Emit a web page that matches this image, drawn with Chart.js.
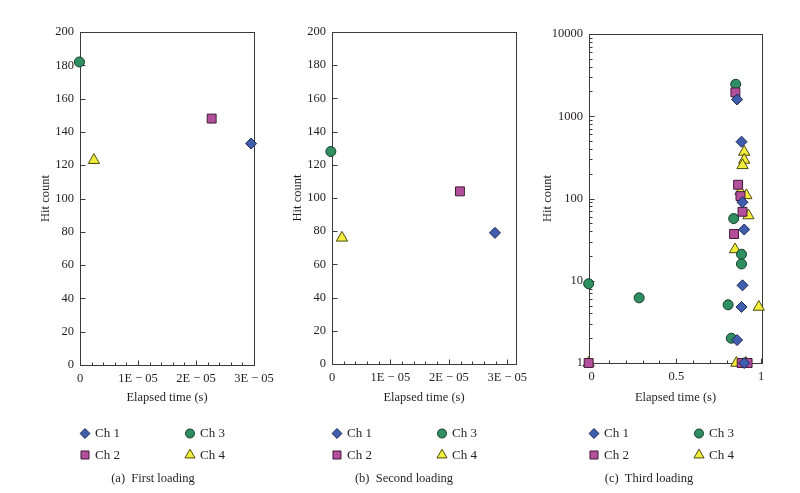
<!DOCTYPE html>
<html>
<head>
<meta charset="utf-8">
<script src="https://cdn.jsdelivr.net/npm/chart.js@4"></script>
<style>
  body { margin: 0; background: #fff; }
  #wrap { position: relative; width: 800px; height: 493px; overflow: hidden; }
  canvas { position: absolute; top: 0; }
</style>
</head>
<body>
<div id="wrap">
  <canvas id="first" width="280" height="493" style="left:0px"></canvas>
  <canvas id="second" width="260" height="493" style="left:280px"></canvas>
  <canvas id="third" width="260" height="493" style="left:540px"></canvas>
</div>
<script>
const channels = ["Ch 1", "Ch 2", "Ch 3", "Ch 4"];

// (a) first loading: one point per channel (Ch 1..Ch 4)
const firstTime = [2.95e-5, 2.27e-5, -1e-7, 2.4e-6];
const firstHits = [133, 148, 182, 123];

// (b) second loading
const secondTime = [2.79e-5, 2.19e-5, -2e-7, 1.7e-6];
const secondHits = [79, 104, 128, 76];

// (c) third loading
const thirdCh1Time = [0.858, 0.884, 0.89, 0.9, 0.89, 0.884, 0.858, 0.9];
const thirdCh1Hits = [1600, 490, 90, 42, 8.8, 4.8, 1.9, 1];
const thirdCh2Time = [0.848, 0.864, 0.878, 0.89, 0.84, -0.018, 0.885, 0.92];
const thirdCh2Hits = [1950, 147, 107, 69, 37, 1, 1, 1];
const thirdCh3Time = [0.85, 0.838, 0.884, 0.884, -0.018, 0.28, 0.805, 0.824];
const thirdCh3Hits = [2450, 57, 21, 16, 9.2, 6.2, 5.1, 2];
const thirdCh4Time = [0.9, 0.9, 0.89, 0.878, 0.913, 0.925, 0.846, 0.986, 0.854, 0.91, -0.018];
const thirdCh4Hits = [368, 294, 253, 122, 109, 62, 24, 4.8, 1, 1, 1];

// tick labels
const timeTicks = [0, 1e-5, 2e-5, 3e-5];
const timeLabels = ["0", "1E \u2212 05", "2E \u2212 05", "3E \u2212 05"];
const hitTicks = [0, 20, 40, 60, 80, 100, 120, 140, 160, 180, 200];
const secTicks = [0, 0.5, 1];
const secLabels = ["0", "0.5", "1"];
const logTicks = [1, 10, 100, 1000, 10000];

const marks = [
  { pointStyle: "rectRot", radius: 5.5, fill: "#3f5fae", border: "#1c2550" },
  { pointStyle: "rect", radius: 6.3, fill: "#b44f9c", border: "#3f1a38" },
  { pointStyle: "circle", radius: 5, fill: "#2f8f60", border: "#153a28" },
  { pointStyle: "triangle", radius: 6.5, fill: "#f2ec3a", border: "#4d4a12" },
];

Chart.defaults.font.family = "'Liberation Serif', 'Times New Roman', serif";
Chart.defaults.font.size = 12;
Chart.defaults.color = "#231f20";

function pts(xs, ys) {
  return xs.map(function (x, i) { return { x: x, y: ys[i] }; });
}

function linearSet(majors, labels, parts) {
  const out = [];
  majors.forEach(function (m, i) {
    out.push({ value: m, major: true, text: labels[i] });
    if (i < majors.length - 1) {
      const step = (majors[i + 1] - m) / parts;
      for (let k = 1; k < parts; k++) out.push({ value: m + k * step, major: false, text: "" });
    }
  });
  return out;
}

function logSet(majors) {
  const out = [];
  majors.forEach(function (m, i) {
    out.push({ value: m, major: true, text: String(m) });
    if (i < majors.length - 1) {
      for (let k = 2; k < 10; k++) out.push({ value: m * k, major: false, text: "" });
    }
  });
  return out;
}

function makeDatasets(series) {
  return series.map(function (s, i) {
    return {
      label: channels[i],
      data: s,
      pointStyle: marks[i].pointStyle,
      pointRadius: marks[i].radius,
      pointBackgroundColor: marks[i].fill,
      pointBorderColor: marks[i].border,
      pointBorderWidth: 1,
      showLine: false,
      clip: false,
    };
  });
}

const framePlugin = {
  id: "frame",
  beforeDatasetsDraw(chart) {
    const ctx = chart.ctx;
    const a = chart.chartArea;
    const x = chart.scales.x;
    const y = chart.scales.y;
    ctx.save();
    ctx.strokeStyle = "#3a3a3a";
    ctx.lineWidth = 1;
    const l = Math.round(a.left) + 0.5, r = Math.round(a.right) + 0.5;
    const t = Math.round(a.top) + 0.5, b = Math.round(a.bottom) + 0.5;
    ctx.strokeRect(l, t, r - l, b - t);
    ctx.beginPath();
    x.ticks.forEach(function (tk) {
      const px = Math.round(x.getPixelForValue(tk.value)) + 0.5;
      ctx.moveTo(px, b);
      ctx.lineTo(px, b - (tk.major ? 5 : 3));
    });
    y.ticks.forEach(function (tk) {
      const py = Math.round(y.getPixelForValue(tk.value)) + 0.5;
      ctx.moveTo(l, py);
      ctx.lineTo(l + (tk.major ? 5 : 3), py);
    });
    ctx.stroke();
    ctx.restore();
  },
  afterDraw(chart) {
    const ctx = chart.ctx;
    const a = chart.chartArea;
    const opts = chart.options.plugins.frame;
    ctx.save();
    channels.forEach(function (name, i) {
      const cx = a.left + (i < 2 ? 5 : 110);
      const cy = i % 2 === 0 ? 433.5 : 455;
      ctx.fillStyle = marks[i].fill;
      ctx.strokeStyle = marks[i].border;
      ctx.lineWidth = 1;
      Chart.helpers.drawPoint(ctx, {
        pointStyle: marks[i].pointStyle,
        radius: marks[i].radius * 0.9,
        borderWidth: 1,
        rotation: 0,
      }, cx, cy);
      ctx.fillStyle = "#231f20";
      ctx.font = "13px 'Liberation Serif', serif";
      ctx.textAlign = "left";
      ctx.textBaseline = "middle";
      ctx.fillText(name, cx + 10, cy + 0.5);
    });
    ctx.font = "12.5px 'Liberation Serif', serif";
    ctx.textAlign = "center";
    ctx.fillText(opts.caption, a.left + opts.captionOffset, 479);
    ctx.restore();
  },
};

function axis(min, max, set, title, titlePad, fit, type) {
  return {
    type: type || "linear",
    min: min,
    max: max,
    bounds: "data",
    afterBuildTicks: function (scale) {
      scale.ticks = set.map(function (t) { return Object.assign({}, t); });
    },
    afterFit: fit,
    grid: { display: false, drawTicks: false, tickLength: 0 },
    border: { display: false },
    ticks: {
      autoSkip: false,
      maxRotation: 0,
      minRotation: 0,
      padding: 6,
      font: { size: 12.5 },
      callback: function (v, i, ticks) { return ticks[i].text; },
    },
    title: {
      display: true,
      text: title,
      font: { size: 12.5 },
      padding: titlePad,
    },
  };
}

function makePanel(id, series, xSet, xMin, xMax, ySet, yMin, yMax, yType, layout, caption, captionOffset) {
  return new Chart(document.getElementById(id), {
    type: "scatter",
    data: { datasets: makeDatasets(series) },
    options: {
      responsive: false,
      animation: false,
      layout: { padding: layout.padding },
      plugins: {
        legend: { display: false },
        tooltip: { enabled: false },
        frame: { caption: caption, captionOffset: captionOffset },
      },
      scales: {
        x: Object.assign(axis(xMin, xMax, xSet, "Elapsed time (s)", { top: 0, bottom: 5 },
          function (s) { s.height = layout.xHeight; }), { position: "bottom" }),
        y: Object.assign(axis(yMin, yMax, ySet, "Hit count", { top: layout.yTitlePad, bottom: 0 },
          function (s) { s.width = layout.yWidth; }, yType), { position: "left" }),
      },
    },
    plugins: [framePlugin],
  });
}

const timeSet = linearSet(timeTicks, timeLabels, 5);
const hitSet = linearSet(hitTicks, hitTicks.map(String), 1);

makePanel("first",
  [0, 1, 2, 3].map(function (i) { return [{ x: firstTime[i], y: firstHits[i] }]; }),
  timeSet, 0, 3e-5, hitSet, 0, 200, "linear",
  { padding: { left: 30, right: 26, top: 32, bottom: 83 }, xHeight: 45, yWidth: 50, yTitlePad: 8 },
  "(a)  First loading", 73);

makePanel("second",
  [0, 1, 2, 3].map(function (i) { return [{ x: secondTime[i], y: secondHits[i] }]; }),
  timeSet, 0, 3.15e-5, hitSet, 0, 200, "linear",
  { padding: { left: 0, right: 24, top: 32, bottom: 83 }, xHeight: 46, yWidth: 52, yTitlePad: 10 },
  "(b)  Second loading", 72);

makePanel("third",
  [pts(thirdCh1Time, thirdCh1Hits), pts(thirdCh2Time, thirdCh2Hits),
   pts(thirdCh3Time, thirdCh3Hits), pts(thirdCh4Time, thirdCh4Hits)],
  linearSet(secTicks, secLabels, 5), -0.016, 1.005, logSet(logTicks), 1, 10000, "logarithmic",
  { padding: { left: 0, right: 38, top: 34, bottom: 83 }, xHeight: 47, yWidth: 49, yTitlePad: 0 },
  "(c)  Third loading", 60);
</script>
</body>
</html>
